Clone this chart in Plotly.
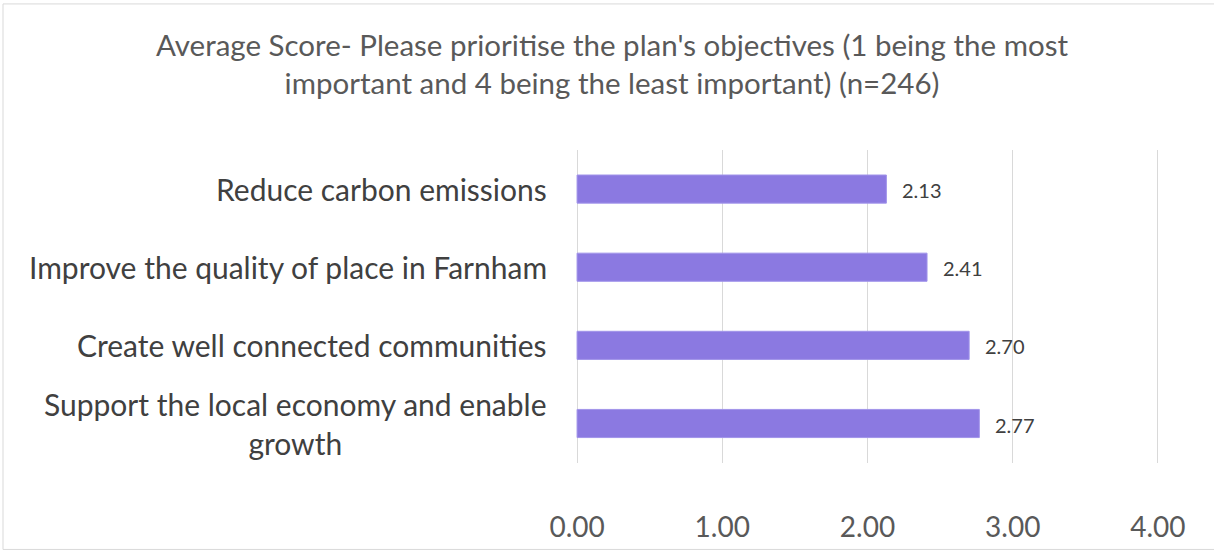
import plotly.graph_objects as go

CATEGORIES = [
    "Reduce carbon emissions",
    "Improve the quality of place in Farnham",
    "Create well connected communities",
    "Support the local economy and enable<br>growth",
]
SCORES = [2.13, 2.41, 2.70, 2.77]
X_TICKS = [0, 1, 2, 3, 4]

TITLE = ("Average Score- Please prioritise the plan's objectives (1 being the most<br>"
         "important and 4 being the least important) (n=246)")

FONT = "Lato, 'Open Sans', sans-serif"
BAR_COLOR = "#8B79E1"
W, H = 1214, 555
L, R, T, B = 573, 52, 150, 90
PAD = 0.028  # a little room so the 0 and 4 gridlines get drawn

fig = go.Figure()
fig.add_trace(
    go.Bar(
        y=CATEGORIES,
        x=SCORES,
        orientation="h",
        marker=dict(color=BAR_COLOR, line=dict(color="#A194EA", width=1)),
        width=0.36,
        hoverinfo="x+y",
        showlegend=False,
    )
)

# category labels (centered multi-line like the original)
for cat in CATEGORIES:
    fig.add_annotation(
        x=0, y=cat, xref="x", yref="y", text=cat,
        xanchor="right", yanchor="middle", align="center", xshift=-28,
        showarrow=False, font=dict(family=FONT, size=30, color="#404040"),
    )

# value labels
for cat, v in zip(CATEGORIES, SCORES):
    fig.add_annotation(
        x=v, y=cat, xref="x", yref="y", text=f"{v:.2f}",
        xanchor="left", yanchor="middle", xshift=14, yshift=-1,
        showarrow=False, font=dict(family=FONT, size=20, color="#404040"),
    )

# light chart-area border
pw, ph = W - L - R, H - T - B
fig.add_shape(
    type="rect", xref="paper", yref="paper",
    x0=(3 - L) / pw, x1=(W + 5 - L) / pw,
    y0=(T + ph - 552) / ph, y1=(T + ph - 3) / ph,
    line=dict(color="#D9D9D9", width=1), fillcolor="rgba(0,0,0,0)", layer="below",
)

fig.update_layout(
    width=W, height=H,
    margin=dict(l=L, r=R, t=T, b=B),
    plot_bgcolor="white", paper_bgcolor="white",
    font=dict(family=FONT, color="#595959"),
    title=dict(
        text=TITLE, x=612 / W, xref="container", xanchor="center",
        y=1 - 56 / H, yanchor="middle",
        font=dict(family=FONT, size=29.5, color="#595959"),
    ),
    bargap=0.64,
)
fig.update_xaxes(
    range=[-PAD, 4 + PAD], tickvals=X_TICKS, tickformat=".2f",
    showgrid=True, gridcolor="#D9D9D9", gridwidth=1,
    zeroline=False, showline=False,
    tickfont=dict(family=FONT, size=28, color="#595959"),
    ticks="", ticklabelstandoff=45,
)
fig.update_yaxes(
    autorange="reversed", showticklabels=False, showgrid=False,
    zeroline=False, showline=False, ticks="",
)

fig.write_html(
    "out.html",
    config={"displayModeBar": False},
    post_script="document.body.style.margin='0';",
)
